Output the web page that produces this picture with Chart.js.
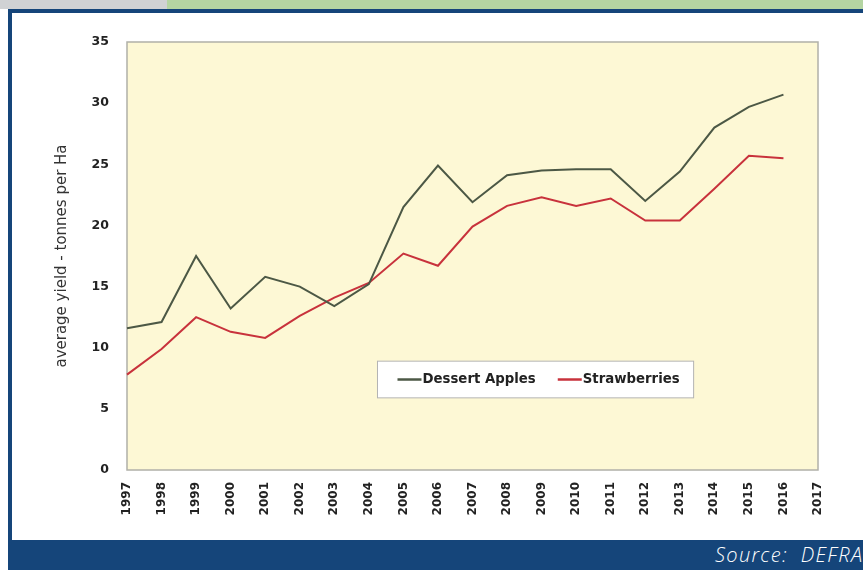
<!DOCTYPE html>
<html lang="en">
<head>
    <meta charset="UTF-8">
    <title>Average yield - Dessert Apples and Strawberries</title>
    <script src="https://cdn.jsdelivr.net/npm/chart.js"></script>
    <style>
        html, body { margin: 0; padding: 0; background: #ffffff; }
        body { width: 863px; height: 570px; position: relative; overflow: hidden; }
        #barGrey { position: absolute; left: 0; top: 0; width: 167px; height: 9px; background: #d0d2d4; }
        #barGreen { position: absolute; left: 167px; top: 0; width: 696px; height: 9px; background: #b4d5a2; }
        #frameTop { position: absolute; left: 8px; top: 9px; width: 855px; height: 4px; background: #15457a; }
        #frameLeft { position: absolute; left: 8px; top: 9px; width: 4px; height: 531px; background: #15457a; }
        #footer { position: absolute; left: 8px; top: 540px; width: 855px; height: 30px; background: #15457a; overflow: hidden; }
        #footer span { position: absolute; left: 707px; top: 1px; white-space: nowrap; color: #ffffff;
            font-family: "Open Sans", sans-serif; font-style: italic; font-weight: 300; font-size: 20px; letter-spacing: 1.3px; }
        #chartBox { position: absolute; left: 12px; top: 13px; width: 851px; height: 527px; }
    </style>
</head>
<body>
    <div id="barGrey"></div>
    <div id="barGreen"></div>
    <div id="frameTop"></div>
    <div id="frameLeft"></div>
    <div id="chartBox"><canvas id="yieldChart"></canvas></div>
    <div id="footer"><span>Source:&nbsp; DEFRA</span></div>

    <script>
        // years on the axis (2017 has no data yet)
        var years = ['1997', '1998', '1999', '2000', '2001', '2002', '2003', '2004', '2005', '2006', '2007',
                     '2008', '2009', '2010', '2011', '2012', '2013', '2014', '2015', '2016', '2017'];

        // average yield, tonnes per Ha
        var dessertApples = [11.6, 12.1, 17.5, 13.2, 15.8, 15.0, 13.4, 15.2, 21.5, 24.9,
                             21.9, 24.1, 24.5, 24.6, 24.6, 22.0, 24.4, 28.0, 29.7, 30.7];
        var strawberries  = [7.8, 9.9, 12.5, 11.3, 10.8, 12.6, 14.1, 15.3, 17.7, 16.7,
                             19.9, 21.6, 22.3, 21.6, 22.2, 20.4, 20.4, 23.0, 25.7, 25.5];

        var yTicks = [0, 5, 10, 15, 20, 25, 30, 35];

        var tickFont = { family: 'DejaVu Sans', weight: 'bold', size: 12 };

        // pale plot background + grey frame
        var plotArea = {
            id: 'plotArea',
            beforeDraw: function (chart) {
                var a = chart.chartArea, ctx = chart.ctx;
                ctx.save();
                ctx.fillStyle = '#fdf8d5';
                ctx.fillRect(a.left, a.top, a.right - a.left, a.bottom - a.top);
                ctx.strokeStyle = '#b0b0a8';
                ctx.lineWidth = 1.5;
                ctx.strokeRect(a.left, a.top, a.right - a.left, a.bottom - a.top);
                ctx.restore();
            }
        };

        // legend box sitting inside the plot, like the Excel one
        var innerLegend = {
            id: 'innerLegend',
            afterDraw: function (chart) {
                var ctx = chart.ctx;
                var xs = chart.scales.x, ys = chart.scales.y;
                var left = xs.getPixelForValue(7.25), right = xs.getPixelForValue(16.4);
                var top = ys.getPixelForValue(8.9), bottom = ys.getPixelForValue(5.9);
                ctx.save();
                ctx.fillStyle = '#ffffff';
                ctx.fillRect(left, top, right - left, bottom - top);
                ctx.strokeStyle = '#b4b4b4';
                ctx.lineWidth = 1;
                ctx.strokeRect(left, top, right - left, bottom - top);
                ctx.font = 'bold 13.3px "DejaVu Sans"';
                ctx.textBaseline = 'middle';
                var midY = (top + bottom) / 2;
                var x = left + 20;
                chart.data.datasets.forEach(function (ds) {
                    ctx.strokeStyle = ds.borderColor;
                    ctx.lineWidth = 2.5;
                    ctx.beginPath();
                    ctx.moveTo(x, midY);
                    ctx.lineTo(x + 24, midY);
                    ctx.stroke();
                    ctx.fillStyle = '#222222';
                    ctx.fillText(ds.label, x + 25, midY);
                    x += 25 + ctx.measureText(ds.label).width + 22;
                });
                ctx.restore();
            }
        };

        new Chart(document.getElementById('yieldChart'), {
            type: 'line',
            data: {
                labels: years,
                datasets: [{
                    label: 'Dessert Apples',
                    data: dessertApples,
                    borderColor: '#4c5845',
                    borderWidth: 2,
                    pointRadius: 0,
                    tension: 0
                }, {
                    label: 'Strawberries',
                    data: strawberries,
                    borderColor: '#c8323c',
                    borderWidth: 2,
                    pointRadius: 0,
                    tension: 0
                }]
            },
            options: {
                responsive: true,
                maintainAspectRatio: false,
                animation: false,
                layout: { padding: { left: 39, top: 29, right: 45, bottom: 0 } },
                plugins: {
                    legend: { display: false },
                    tooltip: { enabled: false }
                },
                scales: {
                    x: {
                        offset: false,
                        grid: { display: false, drawTicks: false },
                        border: { display: false },
                        ticks: {
                            color: '#222222',
                            font: tickFont,
                            minRotation: 90,
                            maxRotation: 90,
                            padding: 12,
                            autoSkip: false
                        },
                        afterFit: function (scale) { scale.height = 70; }
                    },
                    y: {
                        min: 0,
                        max: 35,
                        afterBuildTicks: function (scale) {
                            scale.ticks = yTicks.map(function (v) { return { value: v }; });
                        },
                        grid: { display: false, drawTicks: false },
                        border: { display: false },
                        ticks: {
                            color: '#222222',
                            font: { family: 'DejaVu Sans', weight: 'bold', size: 12.5 },
                            padding: 18
                        },
                        title: {
                            display: true,
                            text: 'average yield - tonnes per Ha',
                            color: '#333333',
                            font: { family: 'DejaVu Sans', size: 15 },
                            padding: { top: 2, bottom: 2 }
                        },
                        afterFit: function (scale) { scale.width = 76; }
                    }
                }
            },
            plugins: [plotArea, innerLegend]
        });
    </script>
</body>
</html>
